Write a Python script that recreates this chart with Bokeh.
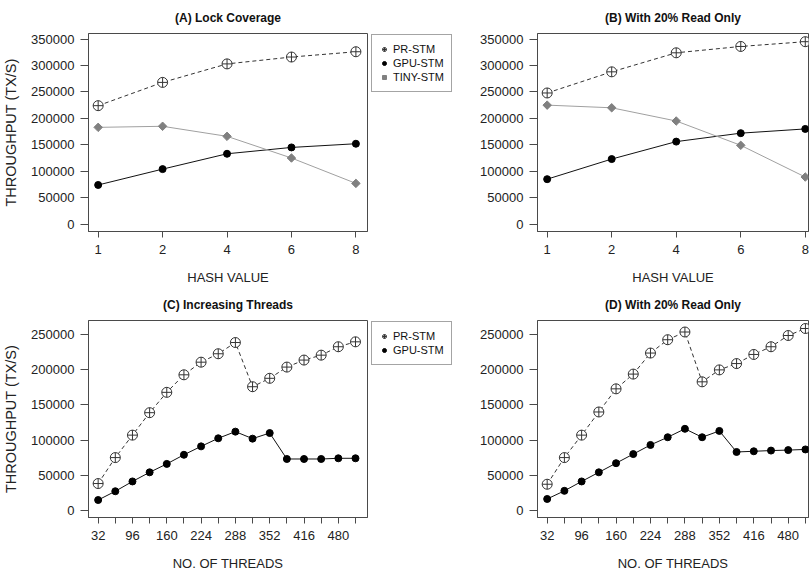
import math
from bokeh.plotting import figure
from bokeh.layouts import column, row
from bokeh.models import FixedTicker, NumeralTickFormatter, Range1d, Legend, LegendItem
from bokeh.embed import file_html
from bokeh.resources import INLINE

# ---------------- data ----------------
hash_labels = ["1", "2", "4", "6", "8"]
a_pr = [224000, 268000, 303000, 316000, 326000]
a_gpu = [74000, 104000, 133000, 145000, 152000]
a_tiny = [183000, 185000, 166000, 125000, 77000]
b_pr = [248000, 288000, 324000, 336000, 345000]
b_gpu = [85000, 123000, 156000, 172000, 180000]
b_tiny = [225000, 220000, 195000, 149000, 89000]

threads = [32, 64, 96, 128, 160, 192, 224, 256, 288, 320, 352, 384, 416, 448, 480, 512]
thread_labels = ["32", "", "96", "", "160", "", "224", "", "288", "", "352", "", "416", "", "480", ""]
c_pr = [38000, 75000, 107000, 139000, 168000, 193000, 211000, 223000, 239000,
        176000, 188000, 204000, 214000, 221000, 233000, 240000]
c_gpu = [14500, 27000, 41000, 54000, 66000, 79000, 91000, 102500, 112000,
         102000, 110000, 73000, 73000, 73000, 74000, 74000]
d_pr = [37000, 75000, 107000, 140000, 173000, 194000, 224000, 243000, 254000,
        183000, 200000, 209000, 222000, 233000, 249000, 259000]
d_gpu = [16000, 27600, 41000, 54000, 67000, 80000, 93000, 104000, 116000,
         104000, 113000, 83000, 84000, 85000, 85700, 86600]

ab_ticks = [0, 50000, 100000, 150000, 200000, 250000, 300000, 350000]
cd_ticks = [0, 50000, 100000, 150000, 200000, 250000]
series_names = ["PR-STM", "GPU-STM", "TINY-STM"]
titles = ["(A) Lock Coverage", "(B) With 20% Read Only",
          "(C) Increasing Threads", "(D) With 20% Read Only"]

FONT = "Liberation Sans"
FRAME_COL = "#4a4a4a"

STYLES = [
    dict(marker="circle_cross", size=10, fill_color="white", line_color="#333333", line_width=1),
    dict(marker="circle", size=7, fill_color="#000000", line_color="#000000"),
    dict(marker="square", angle=math.pi / 4, size=6, fill_color="#808080", line_color="#808080"),
]
LINES = [
    dict(line_color="#333333", line_width=1, line_dash="4 3"),
    dict(line_color="#111111", line_width=1),
    dict(line_color="#a0a0a0", line_width=1),
]


def make_panel(title, xs, xticks, xlabels, xrange, yrange, yticks, series, xlabel,
               left, right, top, bottom, w, h, show_ylabel, tstand):
    p = figure(width=w, height=h, output_backend="svg",
               toolbar_location=None, x_range=Range1d(*xrange), y_range=Range1d(*yrange),
               min_border_left=left, min_border_right=right,
               min_border_top=top, min_border_bottom=bottom)
    p.title.text = title
    p.title.align = "center"
    p.title.text_font = FONT
    p.title.text_font_size = "12px"
    p.title.text_font_style = "bold"
    p.title.text_color = "#111111"
    p.title.text_line_height = 0.75
    p.title.standoff = tstand
    p.xgrid.grid_line_color = None
    p.ygrid.grid_line_color = None
    p.outline_line_color = FRAME_COL
    p.outline_line_width = 1
    p.background_fill_color = "white"
    p.border_fill_color = "white"

    p.xaxis.ticker = FixedTicker(ticks=xticks)
    p.xaxis.major_label_overrides = {t: l for t, l in zip(xticks, xlabels)}
    p.yaxis.ticker = FixedTicker(ticks=yticks)
    p.yaxis.formatter = NumeralTickFormatter(format="0")
    for ax in (p.xaxis[0], p.yaxis[0]):
        ax.axis_line_color = FRAME_COL
        ax.major_tick_line_color = FRAME_COL
        ax.major_tick_in = 0
        ax.minor_tick_line_color = None
        ax.major_label_text_font = FONT
        ax.major_label_text_font_size = "13px"
        ax.major_label_text_color = "#222222"
        ax.axis_label_text_font = FONT
        ax.axis_label_text_font_style = "normal"
        ax.axis_label_text_color = "#222222"
    p.xaxis.major_tick_out = 6
    p.yaxis.major_tick_out = 8
    p.xaxis.axis_label = xlabel
    p.xaxis.axis_label_text_font_size = "13px"
    p.xaxis.major_label_standoff = 7
    p.xaxis.axis_label_standoff = 13
    p.yaxis.major_label_standoff = 6
    if show_ylabel:
        p.yaxis.axis_label = "THROUGHPUT (TX/S)"
        p.yaxis.axis_label_text_font_size = "14.5px"
        p.yaxis.axis_label_standoff = 9

    for ys, ls, ms in zip(series, LINES, STYLES):
        p.line(xs, ys, **ls)
        p.scatter(xs, ys, **ms)
    return p


def make_legend_fig(xs, series, w, h, top):
    # legend lives in its own narrow plot; its renderers hold the same data
    # but the x range is set away from it, so only the legend is visible
    q = figure(width=w, height=h, output_backend="svg", toolbar_location=None,
               x_axis_type=None, y_axis_type=None, x_range=Range1d(-20, -19),
               y_range=Range1d(0, 1), min_border_left=2, min_border_right=0,
               min_border_top=top, min_border_bottom=0)
    q.outline_line_color = None
    q.border_fill_color = "white"
    q.background_fill_color = "white"
    items = []
    for ys, ms, name in zip(series, STYLES, series_names):
        r = q.scatter(xs, ys, **ms)
        items.append(LegendItem(label=name, renderers=[r]))
    leg = Legend(items=items, location="top_left")
    leg.margin = 1
    leg.padding = 7
    leg.spacing = 0
    leg.label_text_font = FONT
    leg.label_text_font_size = "11px"
    leg.label_text_color = "#111111"
    leg.label_height = 14
    leg.glyph_height = 14
    leg.glyph_width = 10
    leg.label_standoff = 4
    leg.border_line_color = FRAME_COL
    leg.border_line_width = 1
    leg.background_fill_color = "white"
    leg.background_fill_alpha = 1
    q.add_layout(leg)
    return q


hx = list(range(1, len(hash_labels) + 1))
pA = make_panel(titles[0], hx, hx, hash_labels, (0.85, 5.18), (-14000, 360500), ab_ticks,
                [a_pr, a_gpu, a_tiny], "HASH VALUE", 87, 1, 31, 56, 368, 287, True, 17)
lA = make_legend_fig(hx, [a_pr, a_gpu, a_tiny], 85, 287, 29)
pB = make_panel(titles[1], hx, hx, hash_labels, (0.85, 5.05), (-14000, 360500), ab_ticks,
                [b_pr, b_gpu, b_tiny], "HASH VALUE", 84, 1, 31, 56, 356, 287, False, 17)
pC = make_panel(titles[2], threads, threads, thread_labels, (14, 534.4), (-10400, 270400), cd_ticks,
                [c_pr, c_gpu], "NO. OF THREADS", 87, 1, 30, 58, 368, 288, True, 17)
lC = make_legend_fig(threads, [c_pr, c_gpu], 85, 288, 29)
pD = make_panel(titles[3], threads, threads, thread_labels, (14, 517.7), (-10400, 270400), cd_ticks,
                [d_pr, d_gpu], "NO. OF THREADS", 84, 1, 30, 58, 356, 288, False, 17)

layout = column(row(pA, lA, pB), row(pC, lC, pD))
open("out.html", "w").write(file_html(layout, INLINE))
